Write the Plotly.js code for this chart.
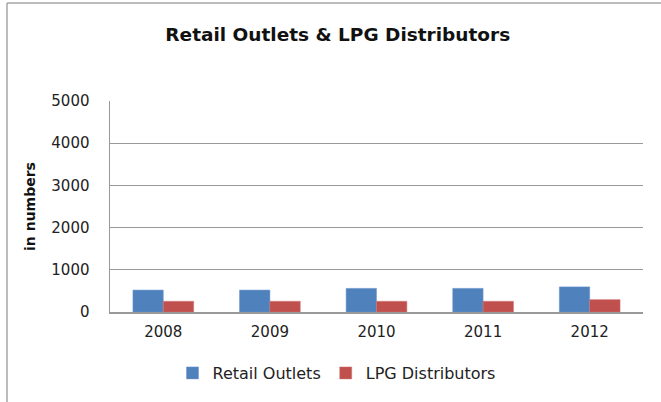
<!DOCTYPE html>
<html>
<head>
<meta charset="utf-8">
<script src="https://cdn.plot.ly/plotly-3.0.1.min.js"></script>
<style>html,body{margin:0;padding:0;background:#fff;}#chart{width:661px;height:402px;}</style>
</head>
<body>
<div id="chart"></div>
<script>
var years = ["2008", "2009", "2010", "2011", "2012"];
var retailOutlets = [520, 520, 560, 560, 595];
var lpgDistributors = [254, 254, 254, 254, 293];
var yTicks = [0, 1000, 2000, 3000, 4000, 5000];

var W = 661, H = 402, L = 110, R = 18, T = 101, B = 90;
var pw = W - L - R, ph = H - T - B;
function px(x){ return (x - L) / pw; }
function py(y){ return (H - B - y) / ph; }

var font = "'DejaVu Sans', 'Open Sans', sans-serif";

var data = [
  {type: "bar", name: "Retail Outlets", x: years, y: retailOutlets,
   marker: {color: "#4F81BD", line: {color: "#6f97cc", width: 0.5}}},
  {type: "bar", name: "LPG Distributors", x: years, y: lpgDistributors,
   marker: {color: "#C0504D", line: {color: "#d07371", width: 0.5}}}
];

var layout = {
  width: W, height: H,
  margin: {l: L, r: R, t: T, b: B},
  paper_bgcolor: "#fff", plot_bgcolor: "#fff",
  barmode: "group", bargap: 0.43, bargroupgap: 0,
  font: {family: font, size: 14, color: "#222"},
  title: {text: "<b>Retail Outlets & LPG Distributors</b>", x: 0.511, xanchor: "center",
          y: 1 - 35/H, yanchor: "middle", font: {family: font, size: 18.5, color: "#111"}},
  xaxis: {type: "category", showgrid: false, showline: true, linecolor: "#999", linewidth: 1.5,
          ticks: "", tickfont: {size: 15, color: "#222"}, ticklabelstandoff: 5, fixedrange: true},
  yaxis: {range: [0, 5000], tickvals: yTicks, showgrid: true, gridcolor: "#999", gridwidth: 1.2,
          showline: true, linecolor: "#999", linewidth: 1.5, zeroline: false, ticks: "",
          tickfont: {size: 15, color: "#222"}, ticklabelstandoff: 16,
          title: {text: "<b>in numbers</b>", standoff: 12, font: {size: 14, color: "#111"}}},
  legend: {orientation: "h", x: 0.425, xanchor: "center", y: py(373), yanchor: "middle",
           font: {size: 16, color: "#222"}, itemwidth: 30, traceorder: "normal"},
  showlegend: true,
  shapes: [
    {type: "line", xref: "paper", yref: "paper", x0: px(7), x1: px(670), y0: py(3), y1: py(3),
     line: {color: "#a6a6a6", width: 1.5}},
    {type: "line", xref: "paper", yref: "paper", x0: px(7), x1: px(7), y0: py(3), y1: py(410),
     line: {color: "#a6a6a6", width: 1.5}}
  ]
};

Plotly.newPlot("chart", data, layout, {displayModeBar: false, staticPlot: true});
</script>
</body>
</html>
